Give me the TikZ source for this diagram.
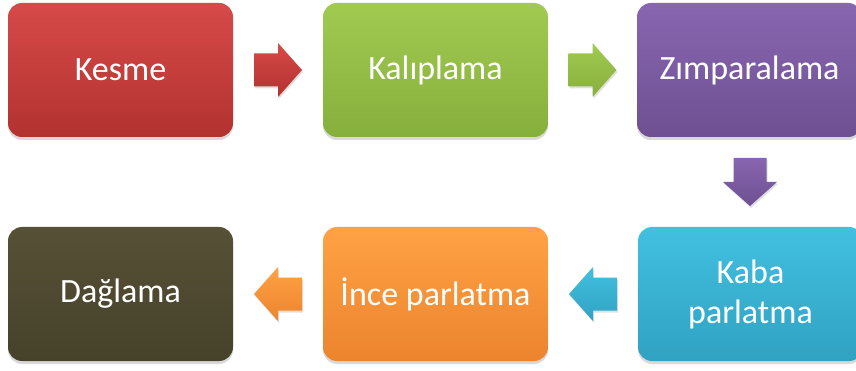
\documentclass[tikz,border=0pt]{standalone}
\usepackage{fontspec}
\setmainfont{Carlito}
\usetikzlibrary{calc,shadows}
\definecolor{redT}{RGB}{214,74,72}
\definecolor{redB}{RGB}{178,50,48}
\definecolor{grnT}{RGB}{160,202,80}
\definecolor{grnB}{RGB}{134,176,60}
\definecolor{purT}{RGB}{136,102,176}
\definecolor{purB}{RGB}{110,80,146}
\definecolor{cyaT}{RGB}{66,192,224}
\definecolor{cyaB}{RGB}{48,162,194}
\definecolor{oraT}{RGB}{255,162,68}
\definecolor{oraB}{RGB}{236,132,46}
\definecolor{oliT}{RGB}{86,80,54}
\definecolor{oliB}{RGB}{70,66,42}
\newcommand{\blockarrow}[4]{%
  \path[arrowbox, shift={(#1)}, rotate=#2, top color=#3, bottom color=#4]
    (-24,-16.5) -- (0,-16.5) -- (0,-27) -- (24,0) -- (0,27) -- (0,16.5) -- (-24,16.5) -- cycle;}
\begin{document}
\begin{tikzpicture}[x=1pt,y=-1pt,
  stepbox/.style={rounded corners=14pt, minimum width=225pt, minimum height=134pt,
    text=white, font=\fontsize{34}{40}\selectfont, align=center, inner sep=0pt,
    drop shadow={opacity=0.3, shadow xshift=0pt, shadow yshift=-3pt}},
  arrowbox/.style={drop shadow={opacity=0.25, shadow xshift=1pt, shadow yshift=-2pt}}]
\useasboundingbox (0,0) rectangle (856,371);
\clip (0,0) rectangle (856,371);
\node[stepbox, top color=redT, bottom color=redB] (kesme) at (120.5,70) {Kesme};
\node[stepbox, top color=grnT, bottom color=grnB] (kalip) at (435.5,70) {Kalıplama};
\node[stepbox, top color=purT, bottom color=purB] (zimp) at (749.5,70) {Zımparalama};
\node[stepbox, top color=cyaT, bottom color=cyaB] (kaba) at (750.5,294) {Kaba\\parlatma};
\node[stepbox, top color=oraT, bottom color=oraB] (ince) at (435.5,294) {İnce parlatma};
\node[stepbox, top color=oliT, bottom color=oliB] (dag) at (120.5,294) {Dağlama};
\coordinate (a1) at ($(kesme.east)!0.5!(kalip.west)$);
\coordinate (a2) at ($(kalip.east)!0.5!(zimp.west)$);
\coordinate (a3) at ($(zimp.south)!0.5!(kaba.north)$);
\coordinate (a4) at ($(kaba.west)!0.5!(ince.east)$);
\coordinate (a5) at ($(ince.west)!0.5!(dag.east)$);
\blockarrow{a1}{0}{redT}{redB}
\blockarrow{a2}{0}{grnT}{grnB}
\blockarrow{a3}{-90}{purT}{purB}
\blockarrow{a4}{180}{cyaT}{cyaB}
\blockarrow{a5}{180}{oraT}{oraB}
\end{tikzpicture}
\end{document}
